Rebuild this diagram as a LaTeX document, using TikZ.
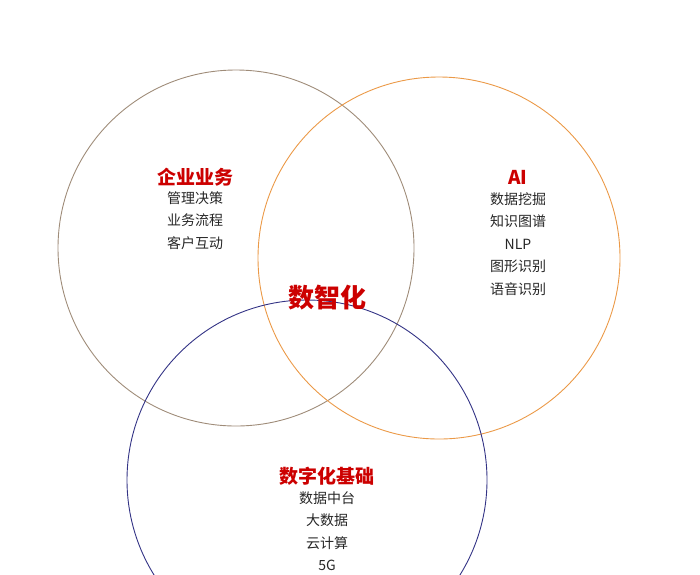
\documentclass[tikz,border=0pt]{standalone}
\usepackage{fontspec}
\newfontfamily\cjk{Noto Sans CJK SC}
\begin{document}
\begin{tikzpicture}[x=1pt,y=-1pt,
  ring/.style={line width=0.9pt},
  ttl/.style={font=\cjk\bfseries\fontsize{19}{22}\selectfont,text=red!80!black},
  lst/.style={font=\cjk\fontsize{14}{22.5}\selectfont,align=center,text=black!85}]
\useasboundingbox (0,0) rectangle (700,574);
\draw[ring,draw=brown!50!black!60] (236,248) circle (178);
\draw[ring,draw=orange!60!brown!80] (439,258) circle (181);
\draw[ring,draw=blue!40!black!80] (307,480) circle (180);
\node[ttl] (t1) at (195,177) {企业业务};
\node[lst,anchor=north] (l1) at (195,188) {管理决策\\业务流程\\客户互动};
\node[ttl] (t2) at (518,177) {AI};
\node[lst,anchor=north] (l2) at (518,189) {数据挖掘\\知识图谱\\NLP\\图形识别\\语音识别};
\node[ttl,font=\cjk\bfseries\fontsize{26}{30}\selectfont] (c) at (327,298) {数智化};
\node[ttl] (t3) at (327,476) {数字化基础};
\node[lst,anchor=north] (l3) at (327,488) {数据中台\\大数据\\云计算\\5G};
\end{tikzpicture}
\end{document}
